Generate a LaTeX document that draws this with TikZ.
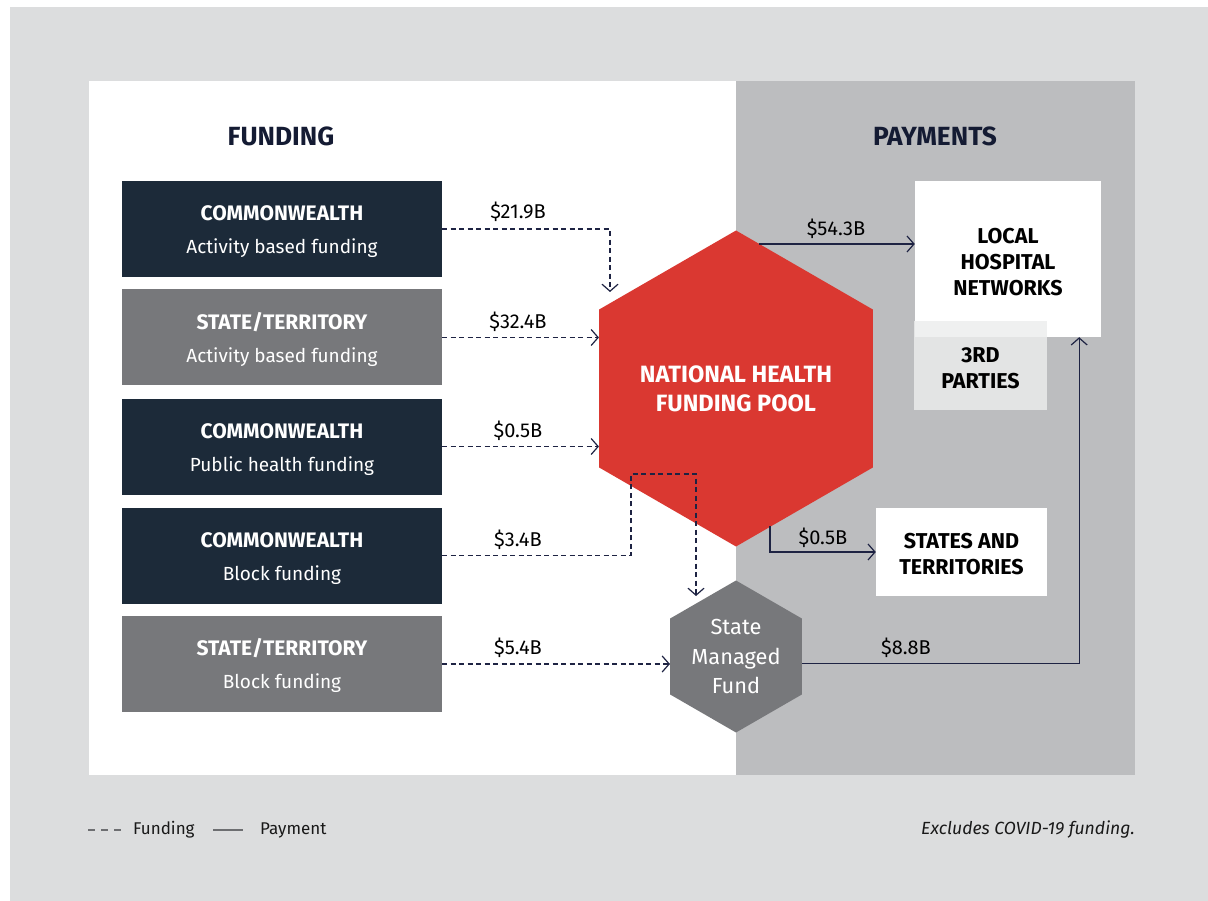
\documentclass[tikz,border=0pt]{standalone}
\usepackage{fontspec}
\setmainfont{Fira Sans}
\usetikzlibrary{arrows.meta,calc,shapes.geometric}
\definecolor{navy}{HTML}{1C2A39}
\definecolor{boxgrey}{HTML}{77787B}
\definecolor{poolred}{HTML}{DA3831}
\definecolor{outergrey}{HTML}{DCDDDE}
\definecolor{paygrey}{HTML}{BCBDBF}
\definecolor{thirdfill}{HTML}{ECEDED}
\definecolor{inkblue}{HTML}{141B33}
\definecolor{navyline}{HTML}{1E2343}
\definecolor{keygrey}{HTML}{6D6E71}
% pushes a first line down a little
\newcommand{\toppad}[1]{\rule{0pt}{#1}}

\begin{document}
\begin{tikzpicture}[x=1pt, y=-1pt,
    fundbox/.style={minimum width=320pt, minimum height=96pt, inner sep=0pt,
                    text=white, align=center, font=\fontsize{19}{33}\selectfont},
    destbox/.style={fill=white, inner sep=0pt, align=center, text=black,
                    font=\fontsize{21.5}{26}\selectfont\bfseries},
    hexnode/.style={regular polygon, regular polygon sides=6, shape border rotate=30,
                    inner sep=0pt, align=center, text=white},
    amount/.style={font=\fontsize{20}{20}\selectfont, text=black, inner sep=0pt},
    fund/.style={-{Straight Barb[length=7pt,width=16pt]}, line width=1.2pt, navyline,
                 dash pattern=on 5pt off 3.5pt},
    pay/.style={-{Straight Barb[length=7pt,width=16pt]}, line width=1.2pt, navyline},
    heading/.style={font=\fontsize{26.3}{26.3}\selectfont\bfseries, text=inkblue},
    keytext/.style={font=\fontsize{17}{17}\selectfont, text=black!90, inner sep=0pt}
    ]
    \useasboundingbox (0,0) rectangle (1208,901);
    % panels
    \fill[white] (0,0) rectangle (1208,901);
    \fill[outergrey] (10,7) rectangle (1208,901);
    \fill[white] (89,81) rectangle (736,775);
    \fill[paygrey] (736,81) rectangle (1135,775);

    \node[heading] (FundHead) at (281,136) {FUNDING};
    \node[heading] (PayHead) at (935,136) {PAYMENTS};

    % funding sources
    \foreach \n/\y/\col/\who/\what in {
        1/229/navy/COMMONWEALTH/Activity based funding,
        2/337.5/boxgrey/{STATE/TERRITORY}/Activity based funding,
        3/446.5/navy/COMMONWEALTH/Public health funding,
        4/555.5/navy/COMMONWEALTH/Block funding,
        5/664/boxgrey/{STATE/TERRITORY}/Block funding}
        \node[fundbox, fill=\col] (Fund\n) at (282,\y)
            {\toppad{20.5pt}{\fontsize{21}{33}\selectfont\bfseries\who}\\\what};

    % pools
    \node[hexnode, fill=poolred, minimum size=316pt,
          font=\fontsize{23.6}{29}\selectfont\bfseries] (Pool) at (736,388.5)
          {NATIONAL HEALTH\\FUNDING POOL};
    \node[hexnode, fill=boxgrey, minimum size=152pt,
          font=\fontsize{21.8}{29.5}\selectfont] (SMF) at (736,656.5)
          {State\\Managed\\Fund};

    % receivers
    \node[destbox, minimum width=186pt, minimum height=156pt] (LHN) at (1008,259)
          {\toppad{20.8pt}LOCAL\\HOSPITAL\\NETWORKS};
    \node[destbox, fill=thirdfill, fill opacity=0.82, text opacity=1,
          minimum width=133pt, minimum height=89pt] (Third) at (980.5,365.5)
          {\toppad{20.8pt}3RD\\PARTIES};
    \node[destbox, minimum width=171pt, minimum height=88pt] (States) at (961.5,552)
          {\toppad{19pt}STATES AND\\TERRITORIES};

    \coordinate (PoolIn1) at (610,292);
    \coordinate (Bend4) at (631,474);
    \coordinate (SMFIn) at (696,596);
    \coordinate (PoolOut1) at (759,244);
    \coordinate (PoolOut2) at (770,526);
    \coordinate (SMFOut) at ($(SMF.east)+(0,7)$);
    \coordinate (LHNIn) at ($(LHN.south east)+(-22,0)$);

    % funding flows
    \draw[fund] (Fund1.east) -| (PoolIn1);
    \draw[fund] (Fund2.east) -- (Fund2.east -| Pool.west);
    \draw[fund] (Fund3.east) -- (Fund3.east -| Pool.west);
    \draw[fund] (Fund4.east) -| (Bend4) -| (SMFIn);
    \draw[fund] (Fund5.east) -- (Fund5.east -| SMF.west);

    % payment flows
    \draw[pay] (PoolOut1) -- (PoolOut1 -| LHN.west);
    \draw[pay] (PoolOut2) |- (States.west);
    \draw[pay] (SMFOut) -| (LHNIn);

    \node[amount] (Amt1) at (518,212) {\$21.9B};
    \node[amount] (Amt2) at (518,322) {\$32.4B};
    \node[amount] (Amt3) at (518,431) {\$0.5B};
    \node[amount] (Amt4) at (518,540) {\$3.4B};
    \node[amount] (Amt5) at (518,648) {\$5.4B};
    \node[amount] (Amt6) at (836,229) {\$54.3B};
    \node[amount] (Amt7) at (823,538) {\$0.5B};
    \node[amount] (Amt8) at (906,648) {\$8.8B};

    % key
    \draw[keygrey, line width=1.2pt, dash pattern=on 7pt off 6pt] (88,830) -- (122,830);
    \draw[keygrey, line width=1.2pt] (213,830) -- (243,830);
    \node[keytext, anchor=west] (KeyFund) at (133,830) {Funding};
    \node[keytext, anchor=west] (KeyPay) at (260,830) {Payment};
    \node[keytext, anchor=east, font=\fontsize{17.6}{17.6}\selectfont\itshape] (Note)
          at (1135,830) {Excludes COVID-19 funding.};
\end{tikzpicture}
\end{document}
